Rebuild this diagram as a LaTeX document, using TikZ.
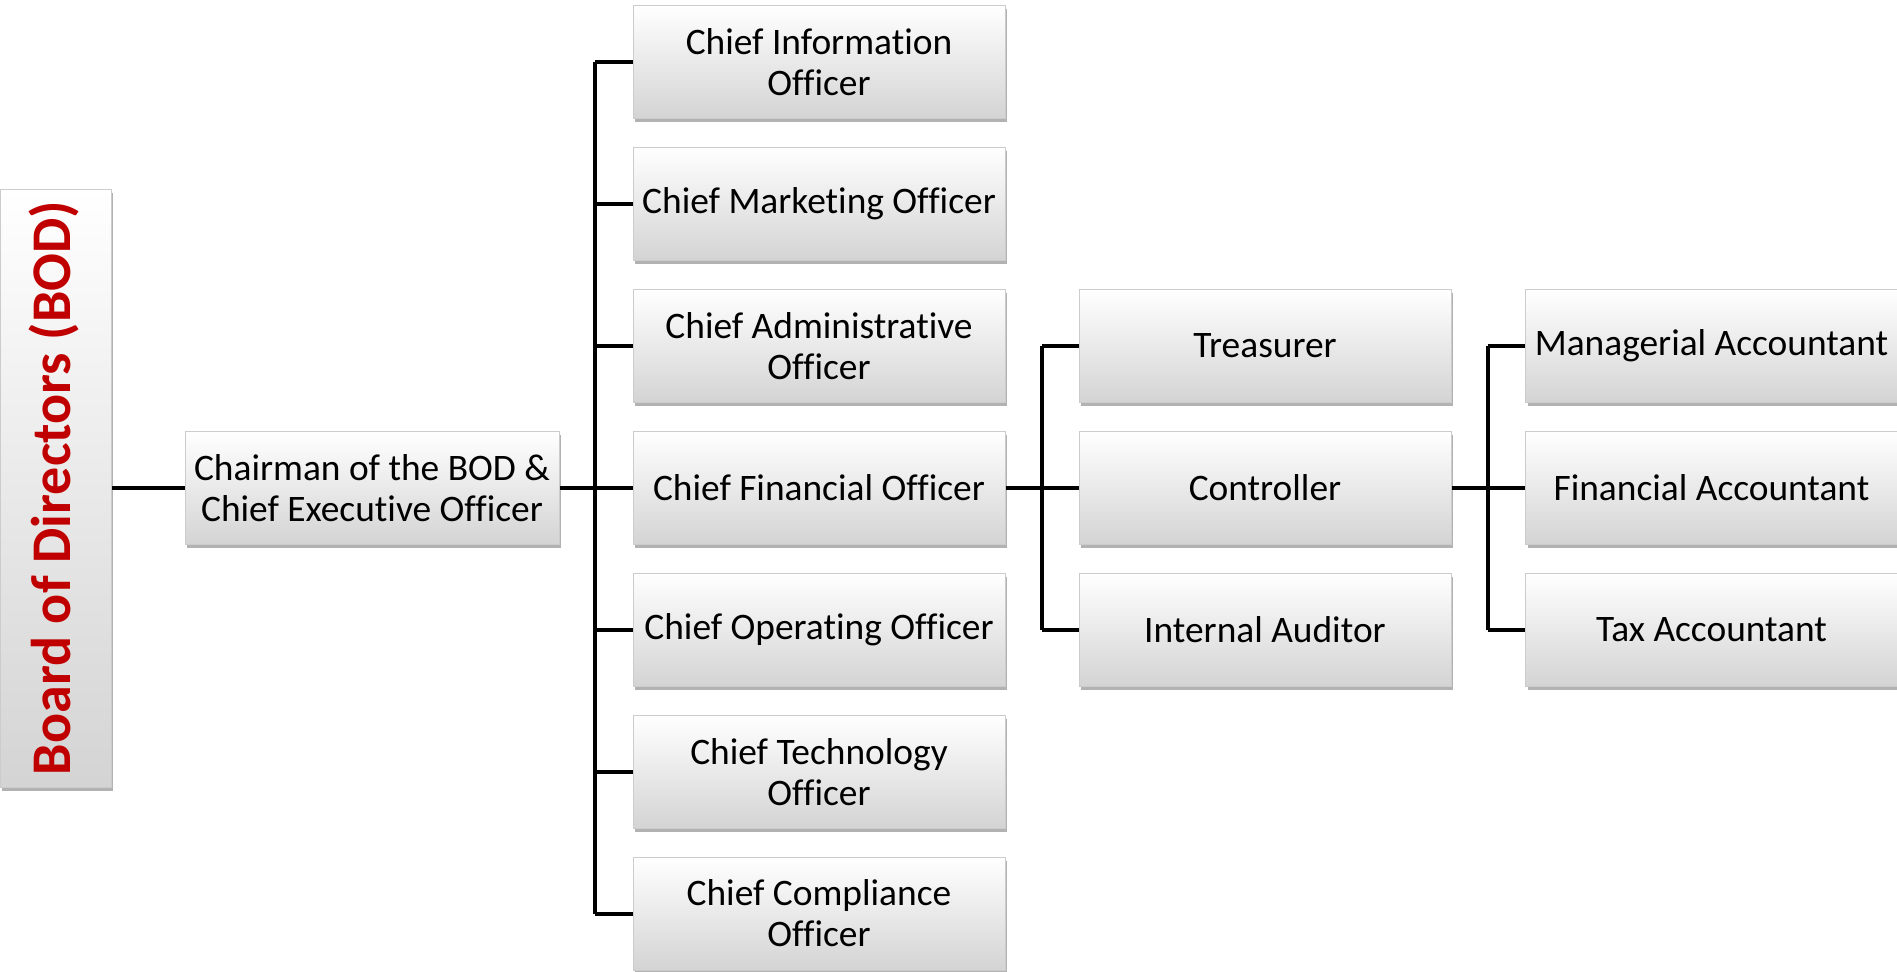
\documentclass[tikz,border=0pt]{standalone}
\usepackage{fontspec}
\setmainfont{Carlito}[Ligatures=NoCommon]
\usetikzlibrary{shadows}
\definecolor{bodred}{RGB}{192,0,0}
\begin{document}
\begin{tikzpicture}[x=0.5pt,y=-0.5pt,
  box/.style={draw=black!20, line width=0.5pt, top color=white, bottom color=black!17,
    drop shadow={shadow xshift=1.2pt, shadow yshift=-1.8pt, fill=black!55, opacity=.55},
    align=center, inner sep=0pt, minimum width=186pt, minimum height=56.5pt,
    font=\fontsize{18.7}{20.6}\selectfont},
  conn/.style={line width=2pt, black}]
\useasboundingbox (0,0) rectangle (1897,971);
% Board of directors
\node[box, minimum width=55.5pt, minimum height=299pt] (bod) at (55.5,488) {};
\node[rotate=90, text=bodred, font=\fontsize{28}{32}\selectfont\bfseries] (bodlabel) at (54,488) {Board of Directors (BOD)};
% Chairman
\node[box, minimum width=187pt] (ceo) at (372,488) {Chairman of the BOD \&\\Chief Executive Officer};
% Chiefs
\node[box] (cio) at (819,62) {Chief Information\\Officer};
\node[box] (cmo) at (819,203.5) {Chief Marketing Officer};
\node[box] (cao) at (819,346) {Chief Administrative\\Officer};
\node[box] (cfo) at (819,488) {Chief Financial Officer};
\node[box] (coo) at (819,629.5) {Chief Operating Officer};
\node[box] (cto) at (819,772) {Chief Technology\\Officer};
\node[box] (cco) at (819,913.5) {Chief Compliance\\Officer};
% Finance
\node[box] (tre) at (1265,346) {Treasurer};
\node[box] (con) at (1265,488) {Controller};
\node[box] (aud) at (1265,629.5) {Internal Auditor};
% Accountants
\node[box] (man) at (1711.5,346) {Managerial Accountant};
\node[box] (fin) at (1711.5,488) {Financial Accountant};
\node[box] (tax) at (1711.5,629.5) {Tax Accountant};
% bus coordinates
\coordinate (b1) at (595,488);
\coordinate (b2) at (1042,488);
\coordinate (b3) at (1488,488);
% connectors
\draw[conn] (bod.east) -- (ceo.west);
\draw[conn] (ceo.east) -- (cfo.west);
\draw[conn] (b1 |- cio.west) -- (b1 |- cco.west);
\foreach \n in {cio,cmo,cao,cfo,coo,cto,cco}
  \draw[conn] (b1 |- \n.west) -- (\n.west);
\draw[conn] (cfo.east) -- (con.west);
\draw[conn] (b2 |- tre.west) -- (b2 |- aud.west);
\foreach \n in {tre,con,aud}
  \draw[conn] (b2 |- \n.west) -- (\n.west);
\draw[conn] (con.east) -- (fin.west);
\draw[conn] (b3 |- man.west) -- (b3 |- tax.west);
\foreach \n in {man,fin,tax}
  \draw[conn] (b3 |- \n.west) -- (\n.west);
\end{tikzpicture}
\end{document}
